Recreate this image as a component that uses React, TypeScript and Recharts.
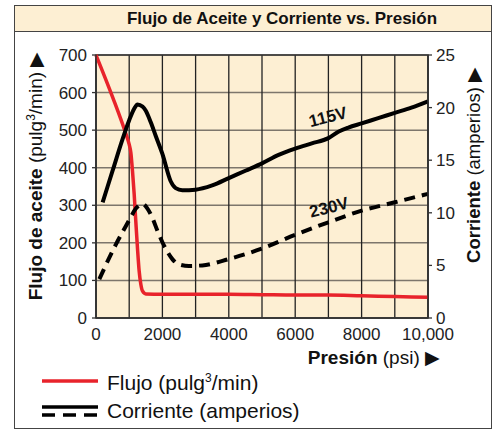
import React from 'react'
import {
    ComposedChart,
    Line,
    XAxis,
    YAxis,
    CartesianGrid,
    ReferenceArea,
    ReferenceDot,
} from 'recharts'

// presión (psi) vs flujo (pulg3/min)
const flowPress = [0, 500, 900, 1000, 1050, 1100, 1150, 1200, 1250, 1300, 1350, 1400, 1500, 2000, 3000, 4000, 5000, 6000, 7000, 8000, 9000, 10000]
const flowVals = [700, 588, 490, 462, 440, 390, 330, 255, 185, 125, 90, 72, 64, 63, 63, 63, 62, 61, 61, 59, 57, 55]

// corriente 115V (amperios)
const amp115Press = [200, 500, 800, 1000, 1150, 1250, 1400, 1500, 1650, 1800, 2000, 2250, 2400, 2600, 3000, 3500, 4000, 4500, 5000, 5500, 6000, 6500, 7000, 7300, 7600, 8000, 8500, 9000, 9500, 10000]
const amp115Vals = [11, 14, 17, 18.8, 19.9, 20.3, 20.1, 19.7, 18.6, 17.3, 15.6, 13.0, 12.35, 12.15, 12.2, 12.6, 13.3, 14.0, 14.7, 15.5, 16.1, 16.6, 17.1, 17.7, 18.1, 18.5, 19.0, 19.5, 20.0, 20.6]

// corriente 230V (amperios)
const amp230Press = [100, 600, 1000, 1200, 1400, 1550, 1700, 1850, 2000, 2150, 2300, 2500, 2800, 3200, 4000, 5000, 6000, 7000, 8000, 9000, 10000]
const amp230Vals = [3.7, 7.0, 9.3, 10.4, 10.85, 10.4, 9.5, 8.3, 7.2, 6.3, 5.6, 5.1, 4.95, 5.0, 5.6, 6.6, 7.9, 9.1, 10.2, 11.0, 11.8]

const pressTicks = [0, 1000, 2000, 3000, 4000, 5000, 6000, 7000, 8000, 9000, 10000]
const flowTicks = [0, 100, 200, 300, 400, 500, 600, 700]
const ampTicks = [0, 5, 10, 15, 20, 25]

const FONT = '"Liberation Sans", Arial, Helvetica, sans-serif'
const BEIGE = '#fdefd3'
const RED = '#e8232b'

const flowData = flowPress.map((x, i) => ({ x, flow: flowVals[i] }))
const a115Data = amp115Press.map((x, i) => ({ x, amp: amp115Vals[i] }))
const a230Data = amp230Press.map((x, i) => ({ x, amp: amp230Vals[i] }))

function fmtPress(v: number) {
    if (v % 2000 !== 0) return ''
    return v === 10000 ? '10,000' : String(v)
}

const LeftLabel = () => (
    <text x={0} y={0} transform="translate(42,176) rotate(-90)" textAnchor="middle" fontSize={19} fill="#111" fontFamily={FONT}>
        <tspan fontWeight="bold">Flujo de aceite</tspan>
        <tspan> (pulg</tspan>
        <tspan dy={-7} fontSize={12}>3</tspan>
        <tspan dy={7}>/min) ▶</tspan>
    </text>
)

const RightLabel = () => (
    <text x={0} y={0} transform="translate(480,165) rotate(-90)" textAnchor="middle" fontSize={18.5} fill="#111" fontFamily={FONT}>
        <tspan fontWeight="bold">Corriente</tspan>
        <tspan> (amperios)   ▶</tspan>
    </text>
)

const BottomLabel = () => (
    <text x={440} y={364} textAnchor="end" fontSize={19} fill="#111" fontFamily={FONT}>
        <tspan fontWeight="bold">Presión</tspan>
        <tspan> (psi)  ▶</tspan>
    </text>
)

const tiltLabel = (txt: string) => (props: any) => {
    const { x, y } = props.viewBox || {}
    return (
        <text x={x} y={y} transform={`rotate(-14 ${x} ${y})`} textAnchor="middle" dominantBaseline="central" fontSize={17} fontWeight="bold" fill="#111" fontFamily={FONT}>
            {txt}
        </text>
    )
}

const tickStyle = { fontSize: 17, fill: '#222', fontFamily: FONT }

export default function App() {
    return (
        <div style={{ position: 'absolute', left: 0, top: 0, width: 497, height: 431, fontFamily: FONT }}>
            <div style={{ position: 'absolute', left: 14, top: 5, width: 476, height: 422, border: '1.5px solid #444', background: '#fff' }}>
                <div style={{ height: 26, background: BEIGE, borderBottom: '1.5px solid #444', textAlign: 'center', paddingLeft: 58, fontWeight: 'bold', fontSize: 17, lineHeight: '26px', color: '#111', boxSizing: 'border-box' }}>
                    Flujo de Aceite y Corriente vs. Presión
                </div>
            </div>
            <div style={{ position: 'absolute', left: 0, top: 0 }}>
                <ComposedChart width={497} height={431} margin={{ top: 55, right: 0, bottom: 0, left: 0 }}>
                    <CartesianGrid yAxisId="left" vertical={false} stroke="#7d766c" strokeWidth={1.5} fill={BEIGE} />
                    <CartesianGrid yAxisId="left" horizontal={false} stroke="#222" strokeWidth={1.3} />
                    <XAxis
                        dataKey="x"
                        type="number"
                        domain={[0, 10000]}
                        ticks={pressTicks}
                        interval={0}
                        tickFormatter={fmtPress}
                        height={113}
                        tick={tickStyle}
                        tickLine={false}
                        tickSize={4}
                        tickMargin={6}
                        axisLine={{ stroke: '#333', strokeWidth: 1.5 }}
                        label={<BottomLabel />}
                    />
                    <YAxis
                        yAxisId="left"
                        type="number"
                        domain={[0, 700]}
                        ticks={flowTicks}
                        interval={0}
                        width={96}
                        tick={tickStyle}
                        tickSize={4}
                        tickMargin={5}
                        tickLine={{ stroke: '#333', strokeWidth: 1.3 }}
                        axisLine={{ stroke: '#333', strokeWidth: 1.5 }}
                        label={<LeftLabel />}
                    />
                    <YAxis
                        yAxisId="right"
                        orientation="right"
                        type="number"
                        domain={[0, 25]}
                        ticks={ampTicks}
                        interval={0}
                        width={69}
                        tick={{ ...tickStyle, textAnchor: 'start' }}
                        tickSize={4}
                        tickMargin={4}
                        tickLine={{ stroke: '#333', strokeWidth: 1.3 }}
                        axisLine={{ stroke: '#333', strokeWidth: 1.5 }}
                        label={<RightLabel />}
                    />
                    <ReferenceArea yAxisId="left" x1={0} x2={10000} y1={0} y2={700} fill="none" stroke="#333" strokeWidth={1.5} />
                    <Line
                        yAxisId="left"
                        data={flowData}
                        dataKey="flow"
                        type="monotone"
                        stroke={RED}
                        strokeWidth={3.5}
                        dot={false}
                        isAnimationActive={false}
                    />
                    <Line
                        yAxisId="right"
                        data={a115Data}
                        dataKey="amp"
                        type="monotone"
                        stroke="#000"
                        strokeWidth={4}
                        dot={false}
                        isAnimationActive={false}
                    />
                    <Line
                        yAxisId="right"
                        data={a230Data}
                        dataKey="amp"
                        type="monotone"
                        stroke="#000"
                        strokeWidth={4}
                        strokeDasharray="11 7"
                        dot={false}
                        isAnimationActive={false}
                    />
                    <ReferenceDot yAxisId="right" x={7018} y={19.0} r={1} fill="none" stroke="none" label={tiltLabel('115V')} />
                    <ReferenceDot yAxisId="right" x={7048} y={10.4} r={1} fill="none" stroke="none" label={tiltLabel('230V')} />
                </ComposedChart>
            </div>
            <div style={{ position: 'absolute', left: 42, top: 364, fontSize: 21, color: '#111', lineHeight: '28px' }}>
                <div style={{ display: 'flex', alignItems: 'center' }}>
                    <svg width={56} height={10} style={{ marginRight: 9 }}>
                        <line x1={0} y1={5} x2={56} y2={5} stroke={RED} strokeWidth={3.5} />
                    </svg>
                    <span>Flujo (pulg<sup style={{ fontSize: 12 }}>3</sup>/min)</span>
                </div>
                <div style={{ display: 'flex', alignItems: 'center' }}>
                    <svg width={56} height={14} style={{ marginRight: 9 }}>
                        <line x1={0} y1={3} x2={56} y2={3} stroke="#000" strokeWidth={3.5} />
                        <line x1={0} y1={11} x2={56} y2={11} stroke="#000" strokeWidth={3.5} strokeDasharray="13 8" />
                    </svg>
                    <span>Corriente (amperios)</span>
                </div>
            </div>
        </div>
    )
}
